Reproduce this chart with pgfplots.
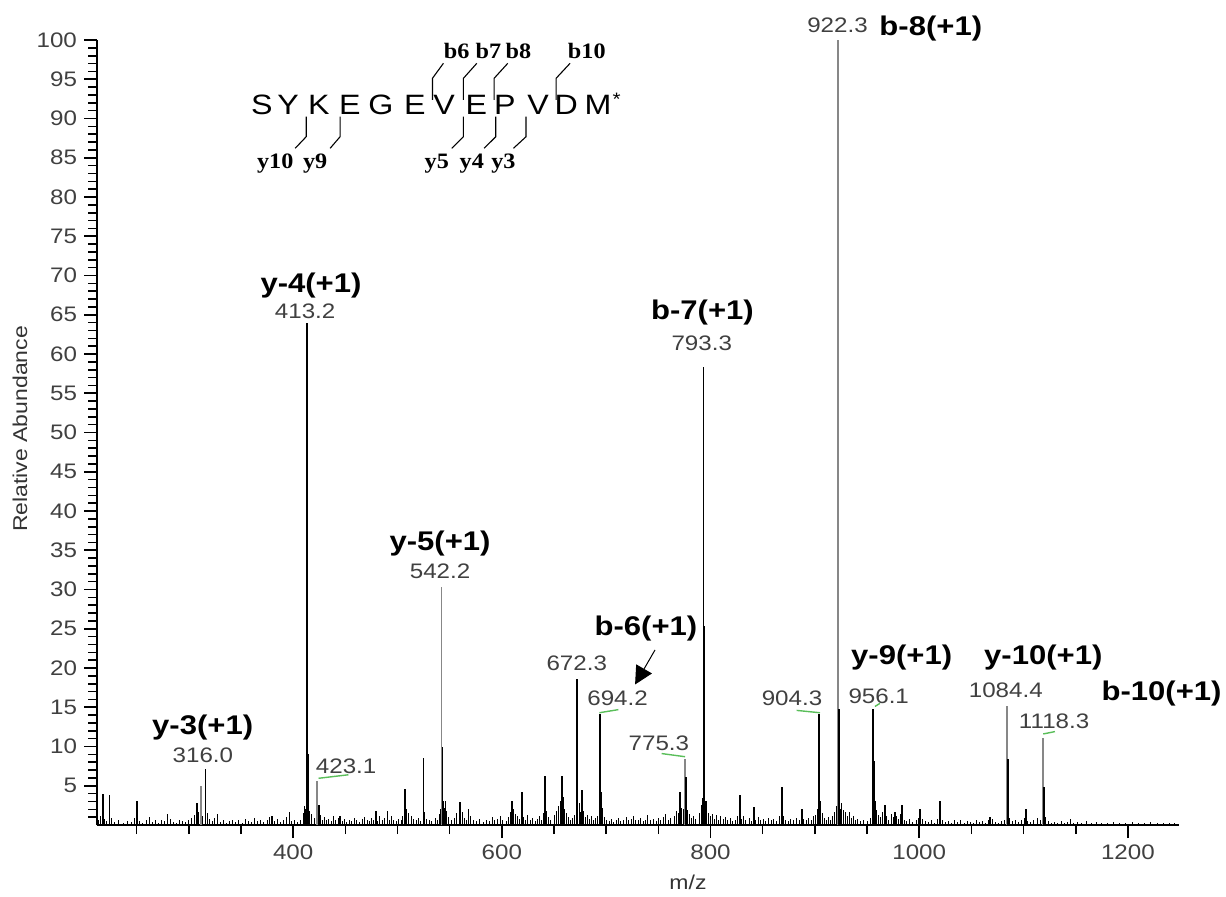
\documentclass[border=0pt]{standalone}
\usepackage{fontspec}
\setmainfont{Liberation Sans}[FakeStretch=1.15]
\newfontfamily\fragfont{Liberation Serif}[FakeStretch=1.1]
\usepackage{pgfplots}
\pgfplotsset{compat=1.18}
\usetikzlibrary{arrows.meta}
\definecolor{peakgray}{RGB}{135,135,135}
\definecolor{ulgreen}{RGB}{90,190,90}
\newcommand\numfont{\fontsize{10.5}{12}\selectfont}
\newcommand\ionfont{\fontsize{13.5}{15}\selectfont\bfseries}
\newcommand\seqfont{\fontsize{14}{16}\selectfont}
\newcommand\fragf{\fragfont\bfseries\fontsize{11}{13}\selectfont}

\begin{document}
\begin{tikzpicture}
\path[use as bounding box] (0,0) rectangle (613pt,448pt);
\begin{axis}[
  at={(48.5pt,35.5pt)}, anchor=south west,
  scale only axis, width=541pt, height=392.5pt,
  xmin=212, xmax=1249, ymin=0, ymax=100,
  axis lines*=left,
  axis line style={line width=0.9pt},
  tick align=outside,
  xtick={400,600,...,1200},
  minor xtick={250,300,350,450,500,550,650,700,750,850,900,950,1050,1100,1150},
  ytick={5,10,...,100},
  minor ytick={1,2,...,100},
  major tick length=6.5pt, minor tick length=4.5pt,
  tick style={line width=0.8pt, black},
  clip=false,
  /pgf/number format/assume math mode=true,
  /pgf/number format/set thousands separator={},
  ticklabel style={font=\fontsize{10.5}{12}\selectfont, text=black!75},
  xlabel={m/z},
  xlabel style={at={(axis description cs:0.5462,-0.0726)}, anchor=center, font=\fontsize{10}{12}\selectfont, text=black!80},
  ylabel={Relative Abundance},
  ylabel style={at={(axis description cs:-0.0712,0.5045)}, anchor=center, font=\fontsize{10}{12}\selectfont, text=black!80},
]
% baseline noise
\addplot[ycomb, no markers, line width=0.5pt, black] coordinates {
(213,0.6) (215,1.2) (219,0.8) (221,0.5) (226,0.9) (229,0.4) (233,0.7) (237,0.3) (241,0.5) (245,0.4)
(248,0.9) (253,0.5) (256,0.3) (259,0.6) (262,1.0) (265,0.4) (268,0.7) (271,0.3) (274,0.6) (277,0.5)
(282,0.8) (285,0.4) (288,0.3) (291,0.6) (294,0.5) (297,0.4) (300,0.7) (303,0.9) (305,1.3) (309,1.6)
(313,1.2) (318,1.5) (320,0.8) (323,0.5) (325,0.9) (330,0.4) (333,0.6) (336,0.3) (339,0.5) (342,0.7)
(345,0.4) (348,0.6) (351,0.3) (354,0.8) (357,0.5) (360,0.4) (363,0.9) (366,0.5) (369,0.6) (372,0.4)
(375,0.7) (377,1.0) (382,0.5) (385,0.8) (388,0.4) (391,0.6) (394,1.0) (398,0.5) (401,0.7) (404,0.4)
(407,0.6) (410,1.5) (411,2.4) (415,3.0) (416,1.8) (418,1.4) (420,0.9) (422,1.1) (424,1.8) (426,1.3)
(428,0.7) (430,1.0) (432,0.6) (434,0.8) (437,0.5) (439,1.1) (441,0.6) (443,0.9) (447,0.5) (449,0.8)
(451,0.4) (454,0.7) (456,0.5) (459,0.9) (461,0.6) (464,0.4) (466,0.8) (468,1.0) (471,0.6) (473,0.5)
(475,0.9) (477,0.7) (481,0.5) (483,1.2) (486,0.6) (488,0.9) (492,0.7) (494,1.1) (496,0.6) (499,0.5)
(501,0.8) (504,0.6) (505,1.2) (509,2.0) (511,1.5) (513,1.2) (515,0.8) (518,0.6) (520,0.9) (522,0.5)
(526,1.6) (528,0.8) (531,0.6) (533,0.5) (536,0.9) (538,0.7) (540,1.4) (541,2.0) (544,3.0) (545,2.2)
(547,1.8) (549,1.0) (552,0.6) (555,0.9) (557,1.5) (559,1.0) (562,1.6) (564,0.9) (566,0.7) (570,1.1)
(573,0.6) (576,0.5) (579,0.8) (582,0.4) (585,0.7) (588,0.5) (591,1.0) (593,0.6) (596,0.8) (599,1.2)
(601,0.7) (604,0.5) (606,1.0) (608,1.6) (611,2.0) (613,1.4) (615,1.1) (617,0.8) (621,1.0) (623,0.7)
(625,1.3) (627,0.6) (629,0.9) (632,0.5) (634,0.8) (636,1.2) (638,0.7) (640,1.5) (643,1.8) (645,1.0)
(647,0.7) (650,1.3) (652,1.8) (654,2.4) (656,3.0) (659,2.6) (660,2.0) (662,1.5) (664,1.0) (666,0.7)
(668,0.9) (670,1.3) (674,2.8) (675,1.6) (678,1.8) (680,1.0) (682,1.3) (684,0.8) (686,1.1) (688,0.6)
(690,0.9) (692,1.2) (696,2.2) (698,1.0) (700,0.7) (703,0.5) (705,0.8) (707,0.4) (710,0.6) (712,0.9)
(714,0.5) (717,0.7) (719,1.0) (721,0.6) (724,0.8) (726,1.2) (728,0.7) (731,0.6) (733,0.9) (736,0.5)
(738,0.7) (740,1.3) (742,0.6) (745,0.8) (748,0.5) (750,0.9) (752,0.6) (755,1.0) (757,1.4) (760,0.7)
(762,0.9) (765,1.1) (767,1.8) (769,1.5) (772,2.2) (774,2.0) (778,1.9) (780,1.4) (782,0.9) (784,1.2)
(786,0.8) (789,1.5) (791,2.6) (792,3.5) (796,2.4) (798,1.5) (800,1.1) (802,1.4) (804,0.8) (806,1.3)
(808,0.7) (810,1.2) (812,0.8) (814,1.0) (816,0.6) (819,0.9) (821,0.5) (824,0.7) (826,1.1) (830,0.8)
(832,1.2) (834,0.6) (837,0.9) (839,0.5) (843,0.7) (846,1.0) (848,0.6) (851,0.8) (853,0.5) (856,0.9)
(858,0.6) (860,0.8) (863,0.5) (866,1.1) (870,1.2) (872,0.7) (875,0.5) (877,0.8) (880,0.6) (882,0.9)
(885,0.7) (889,0.8) (892,0.6) (894,0.9) (897,0.7) (899,1.1) (901,1.3) (903,2.0) (907,1.5) (909,0.9)
(911,0.6) (913,1.0) (915,0.7) (917,1.2) (919,1.6) (921,2.4) (926,2.8) (927,1.9) (929,1.6) (931,1.2)
(933,1.6) (935,0.9) (937,1.1) (939,0.6) (941,0.8) (944,0.5) (947,0.7) (950,0.5) (953,0.9) (955,1.4)
(959,1.9) (961,1.3) (963,1.0) (965,1.6) (969,1.1) (971,0.7) (973,1.4) (975,1.0) (978,1.2) (980,0.8)
(982,1.4) (986,0.7) (988,0.5) (991,0.8) (994,0.4) (997,0.6) (999,0.9) (1003,0.8) (1006,0.5) (1009,0.4)
(1012,0.6) (1015,0.3) (1018,0.8) (1022,0.6) (1025,0.4) (1028,0.5) (1031,0.3) (1034,0.6) (1037,0.4) (1040,0.7)
(1043,0.3) (1046,0.5) (1049,0.4) (1052,0.3) (1055,0.6) (1058,0.4) (1061,0.5) (1064,0.3) (1066,0.7) (1070,0.8)
(1073,0.4) (1076,0.3) (1079,0.5) (1082,0.7) (1087,0.9) (1089,0.5) (1092,0.6) (1095,0.4) (1098,0.7) (1101,0.9)
(1104,0.5) (1107,0.4) (1110,0.6) (1113,0.9) (1116,0.7) (1121,1.0) (1124,0.5) (1127,0.3) (1130,0.4) (1133,0.3)
(1136,0.5) (1139,0.3) (1142,0.4) (1148,0.3) (1152,0.4) (1156,0.3) (1160,0.5) (1165,0.3) (1170,0.4) (1175,0.3)
(1180,0.3) (1186,0.4) (1192,0.3) (1198,0.3) (1204,0.4) (1210,0.3) (1216,0.3) (1222,0.4) (1228,0.3) (1234,0.3)
(1240,0.3) (1245,0.3)
};
% gray (thin, anti-aliased) peaks
\addplot[ycomb, no markers, line width=0.9pt, peakgray] coordinates {
(311.8,5.0) (423.1,5.6) (542.2,30.3) (775.3,8.4) (922.3,100) (1084.4,15.2) (1118.3,11.1)
};
% black peaks
\addplot[ycomb, no markers, line width=0.9pt, black] coordinates {
(217.4,4.0) (224.0,3.8) (250.2,3.1) (279.6,1.4) (307.7,2.8) (316.0,7.1) (327.5,1.4) (379.6,1.2)
(396.5,1.6) (412.5,2.0) (413.2,64.0) (414.2,9.0) (425.0,2.6) (445.0,1.2) (479.5,1.8) (490.4,1.8)
(507.3,4.6) (524.9,8.5) (543.2,10.0) (546.0,3.1) (560.0,2.9) (568.0,2.0) (609.5,3.1) (619.0,4.2)
(641.5,6.3) (657.5,6.3) (658.5,3.6) (672.3,18.6) (676.5,4.4) (694.2,14.2) (695.2,4.2) (770.8,4.2)
(776.3,6.1) (793.3,58.4) (794.3,25.4) (795.3,3.1) (828.3,3.8) (841.7,2.3) (868.7,4.8) (887.4,2.0)
(904.3,14.2) (905.3,3.1) (923.3,14.8) (924.3,2.0) (956.1,14.8) (957.1,8.2) (958.1,3.1) (967.0,2.5)
(976.6,1.6) (983.6,2.5) (1001.0,2.0) (1020.2,3.0) (1068.2,1.0) (1085.4,8.4) (1102.3,2.0) (1119.3,4.8)
(1145.0,0.8)
};
% peak labels
\begin{scope}[every node/.style={inner sep=0pt, anchor=center}]
\node[font=\ionfont] at (axis cs:313.3,12.4) {y-3(+1)};
\node[font=\numfont, text=black!75] at (axis cs:313.5,8.9) {316.0};
\node[font=\numfont, text=black!75] at (axis cs:450.8,7.5) {423.1};
\node[font=\ionfont] at (axis cs:417.1,68.7) {y-4(+1)};
\node[font=\numfont, text=black!75] at (axis cs:411.5,65.5) {413.2};
\node[font=\ionfont] at (axis cs:540.8,35.9) {y-5(+1)};
\node[font=\numfont, text=black!75] at (axis cs:540.8,32.3) {542.2};
\node[font=\ionfont] at (axis cs:792.3,65.3) {b-7(+1)};
\node[font=\numfont, text=black!75] at (axis cs:791.6,61.4) {793.3};
\node[font=\numfont, text=black!75] at (axis cs:921.7,101.9) {922.3};
\node[font=\ionfont] at (axis cs:1011.1,101.5) {b-8(+1)};
\node[font=\ionfont] at (axis cs:738.1,25.0) {b-6(+1)};
\node[font=\numfont, text=black!75] at (axis cs:671.8,20.6) {672.3};
\node[font=\numfont, text=black!75] at (axis cs:710.9,16.1) {694.2};
\node[font=\numfont, text=black!75] at (axis cs:750.5,10.4) {775.3};
\node[font=\numfont, text=black!75] at (axis cs:878.1,16.1) {904.3};
\node[font=\ionfont] at (axis cs:983.2,21.3) {y-9(+1)};
\node[font=\numfont, text=black!75] at (axis cs:961.2,16.4) {956.1};
\node[font=\ionfont] at (axis cs:1118.9,21.3) {y-10(+1)};
\node[font=\numfont, text=black!75] at (axis cs:1083,17.2) {1084.4};
\node[font=\numfont, text=black!75] at (axis cs:1129.3,13.2) {1118.3};
\node[font=\ionfont] at (axis cs:1232.3,16.8) {b-10(+1)};
\end{scope}
\draw[line width=0.5pt, -{Triangle[length=9pt,width=9pt]}] (axis cs:746.8,22.3) -- (axis cs:727.7,17.9);
% green underlines
\begin{scope}[ulgreen, line width=0.7pt]
\draw (axis cs:424.3,5.95) -- (axis cs:453.0,6.4);
\draw (axis cs:693.5,14.3) -- (axis cs:711.7,14.7);
\draw (axis cs:753.2,9.1) -- (axis cs:775.6,8.7);
\draw (axis cs:882.5,14.6) -- (axis cs:904.9,14.3);
\draw (axis cs:957.6,15.1) -- (axis cs:962.4,15.5);
\draw (axis cs:1118.9,11.6) -- (axis cs:1130.1,11.9);
\end{scope}
% peptide sequence
\begin{scope}[every node/.style={inner sep=0pt, anchor=base, font=\seqfont}]
\node at (axis cs:370.0,90.5) {S};
\node at (axis cs:395.2,90.5) {Y};
\node at (axis cs:424.6,90.5) {K};
\node at (axis cs:454.3,90.5) {E};
\node at (axis cs:484.0,90.5) {G};
\node at (axis cs:516.6,90.5) {E};
\node at (axis cs:544.7,90.5) {V};
\node at (axis cs:575.6,90.5) {E};
\node at (axis cs:602.8,90.5) {P};
\node at (axis cs:634.7,90.5) {V};
\node at (axis cs:661.8,90.5) {D};
\node at (axis cs:692.2,90.5) {M};
\node[font=\fontsize{9}{10}\selectfont] at (axis cs:710.0,91.6) {*};
\end{scope}
\begin{scope}[line width=0.55pt]
\draw (axis cs:412.5,90.23) -- (axis cs:412.5,87.68) -- (axis cs:401.9,86.20);
\draw (axis cs:445.0,90.23) -- (axis cs:445.0,87.68) -- (axis cs:435.4,86.20);
\draw (axis cs:563.2,90.23) -- (axis cs:563.2,87.68) -- (axis cs:552.0,86.20);
\draw (axis cs:594.2,90.23) -- (axis cs:594.2,87.68) -- (axis cs:583.0,86.20);
\draw (axis cs:623.2,90.23) -- (axis cs:623.2,87.68) -- (axis cs:611.1,86.20);
\draw (axis cs:533.5,92.36) -- (axis cs:533.5,95.12) -- (axis cs:544.0,97.03);
\draw (axis cs:563.2,92.36) -- (axis cs:563.2,95.12) -- (axis cs:576.0,97.03);
\draw (axis cs:592.6,92.36) -- (axis cs:592.6,95.12) -- (axis cs:605.7,97.03);
\draw (axis cs:652.0,92.36) -- (axis cs:652.0,95.12) -- (axis cs:665.4,97.03);
\end{scope}
\begin{scope}[every node/.style={inner sep=0pt, anchor=base, font=\fragf}]
\node at (axis cs:382.8,83.66) {y10};
\node at (axis cs:421.1,83.66) {y9};
\node at (axis cs:537.7,83.66) {y5};
\node at (axis cs:571.2,83.66) {y4};
\node at (axis cs:601.5,83.66) {y3};
\node at (axis cs:556.8,97.66) {b6};
\node at (axis cs:587.1,97.66) {b7};
\node at (axis cs:615.9,97.66) {b8};
\node at (axis cs:681.4,97.66) {b10};
\end{scope}
\end{axis}
\end{tikzpicture}
\end{document}
